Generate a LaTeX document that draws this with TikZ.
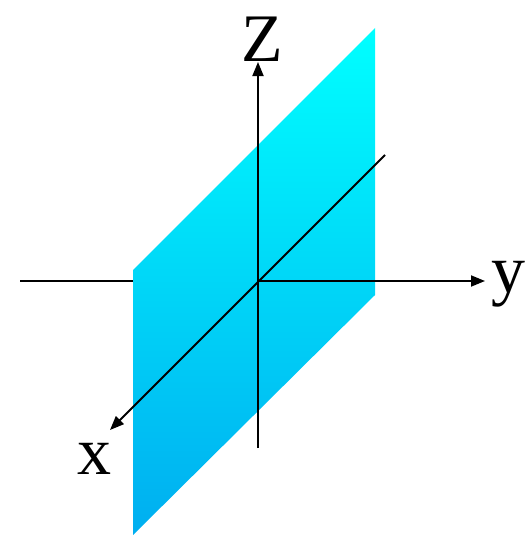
\documentclass[tikz,border=0pt]{standalone}
\usepackage{fontspec}
\setmainfont{Liberation Serif}
\usetikzlibrary{arrows.meta}
\definecolor{planetop}{RGB}{0,255,255}
\definecolor{planebot}{RGB}{0,174,240}
\tikzset{
  axis/.style={line width=1.8pt,-{Triangle[length=14pt,width=11pt]}},
  axisline/.style={line width=1.8pt},
  lbl/.style={font=\fontsize{68}{68}\selectfont,inner sep=0pt}
}
\begin{document}
\begin{tikzpicture}[x=1pt,y=-1pt]
\useasboundingbox (0,0) rectangle (529,535);
\coordinate (o) at (258,281);
\coordinate (yl) at (20,281);
\coordinate (yb) at (133,281);
\coordinate (yt) at (485,281);
\coordinate (zb) at (258,448);
\coordinate (zt) at (258,62);
\coordinate (xb) at (385,155);
\coordinate (xt) at (110,430);
\draw[axisline] (yl) -- (yb);
\shade[top color=planetop,bottom color=planebot] (133,270) -- (375,28) -- (375,295) -- (133,535) -- cycle;
\draw[axis] (o) -- (yt);
\draw[axis] (zb) -- (zt);
\draw[axis] (xb) -- (xt);
\node[lbl] (Z) at (262,39) {Z};
\node[lbl] (Y) at (508,284) {y};
\node[lbl] (X) at (94,459) {x};
\end{tikzpicture}
\end{document}
